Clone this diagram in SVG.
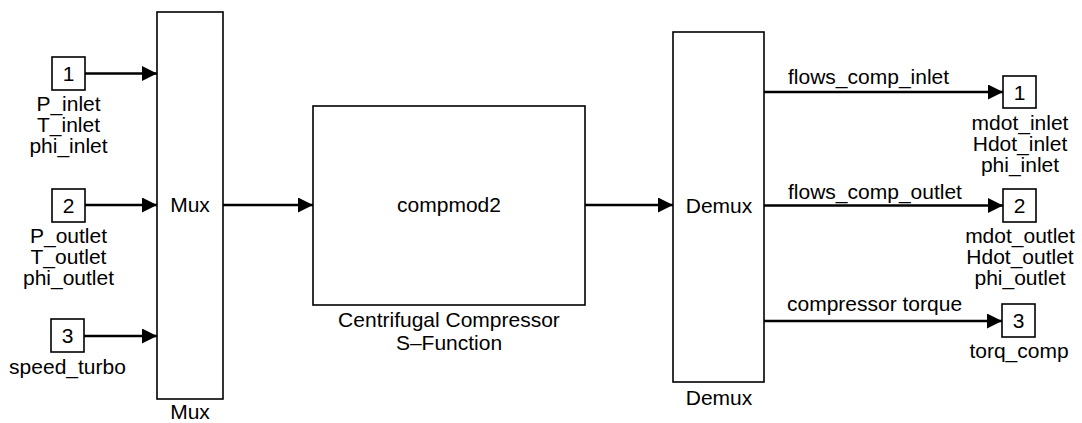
<svg xmlns="http://www.w3.org/2000/svg" width="1082" height="423" viewBox="0 0 1082 423">
<style>
.blk{fill:#fff;stroke:#000;stroke-width:1.6}
.t{font-family:"Liberation Sans",Arial,sans-serif;font-size:21px;fill:#000;text-anchor:middle}
.tl{font-family:"Liberation Sans",Arial,sans-serif;font-size:21px;fill:#000;text-anchor:start}
.w{fill:none;stroke:#000;stroke-width:2.6}
</style>
<defs>
<marker id="ah" markerUnits="userSpaceOnUse" markerWidth="15" markerHeight="15" refX="15" refY="7.5" orient="auto">
<path d="M0,0 L15,7.5 L0,15 z" fill="#000"/>
</marker>
</defs>
<rect width="1082" height="423" fill="#fff"/>
<g id="in1">
<rect class="blk" x="52" y="57" width="33" height="33"/>
<text class="t" x="68.5" y="81">1</text>
<text class="t" x="68.5" y="111">P_inlet</text>
<text class="t" x="68.5" y="132">T_inlet</text>
<text class="t" x="68.5" y="153">phi_inlet</text>
</g>
<g id="in2">
<rect class="blk" x="52" y="189" width="33" height="33"/>
<text class="t" x="68.5" y="213">2</text>
<text class="t" x="68.5" y="243">P_outlet</text>
<text class="t" x="68.5" y="264">T_outlet</text>
<text class="t" x="68.5" y="285">phi_outlet</text>
</g>
<g id="in3">
<rect class="blk" x="51" y="319" width="33" height="33"/>
<text class="t" x="67.5" y="343">3</text>
<text class="t" x="67.5" y="374">speed_turbo</text>
</g>
<g id="mux">
<rect class="blk" x="157" y="12" width="66" height="387"/>
<text class="t" x="190" y="212">Mux</text>
<text class="t" x="190" y="419">Mux</text>
</g>
<g id="compmod2">
<rect class="blk" x="313" y="106" width="272" height="199"/>
<text class="t" x="449" y="212">compmod2</text>
<text class="t" x="449" y="327">Centrifugal Compressor</text>
<text class="t" x="449" y="350">S–Function</text>
</g>
<g id="demux">
<rect class="blk" x="673" y="32" width="91" height="350"/>
<text class="t" x="719" y="213">Demux</text>
<text class="t" x="719" y="405">Demux</text>
</g>
<g id="out1">
<rect class="blk" x="1003" y="76" width="33" height="32"/>
<text class="t" x="1019.5" y="100">1</text>
<text class="t" x="1020" y="130">mdot_inlet</text>
<text class="t" x="1020" y="151">Hdot_inlet</text>
<text class="t" x="1020" y="172">phi_inlet</text>
</g>
<g id="out2">
<rect class="blk" x="1003" y="189" width="33" height="33"/>
<text class="t" x="1019.5" y="213">2</text>
<text class="t" x="1020" y="243">mdot_outlet</text>
<text class="t" x="1020" y="264">Hdot_outlet</text>
<text class="t" x="1020" y="285">phi_outlet</text>
</g>
<g id="out3">
<rect class="blk" x="1002" y="304" width="33" height="33"/>
<text class="t" x="1018.5" y="328">3</text>
<text class="t" x="1019" y="358">torq_comp</text>
</g>
<g id="connectors">
<line class="w" x1="85" y1="73.5" x2="157" y2="73.5" marker-end="url(#ah)"/>
<line class="w" x1="85" y1="205" x2="157" y2="205" marker-end="url(#ah)"/>
<line class="w" x1="84" y1="336" x2="157" y2="336" marker-end="url(#ah)"/>
<line class="w" x1="223" y1="205" x2="313" y2="205" marker-end="url(#ah)"/>
<line class="w" x1="585" y1="205" x2="673" y2="205" marker-end="url(#ah)"/>
<line class="w" x1="764" y1="92" x2="1003" y2="92" marker-end="url(#ah)"/>
<line class="w" x1="764" y1="205.5" x2="1003" y2="205.5" marker-end="url(#ah)"/>
<line class="w" x1="764" y1="321" x2="1002" y2="321" marker-end="url(#ah)"/>
<text class="tl" x="788" y="84">flows_comp_inlet</text>
<text class="tl" x="788" y="199">flows_comp_outlet</text>
<text class="tl" x="787" y="311">compressor torque</text>
</g>
</svg>
